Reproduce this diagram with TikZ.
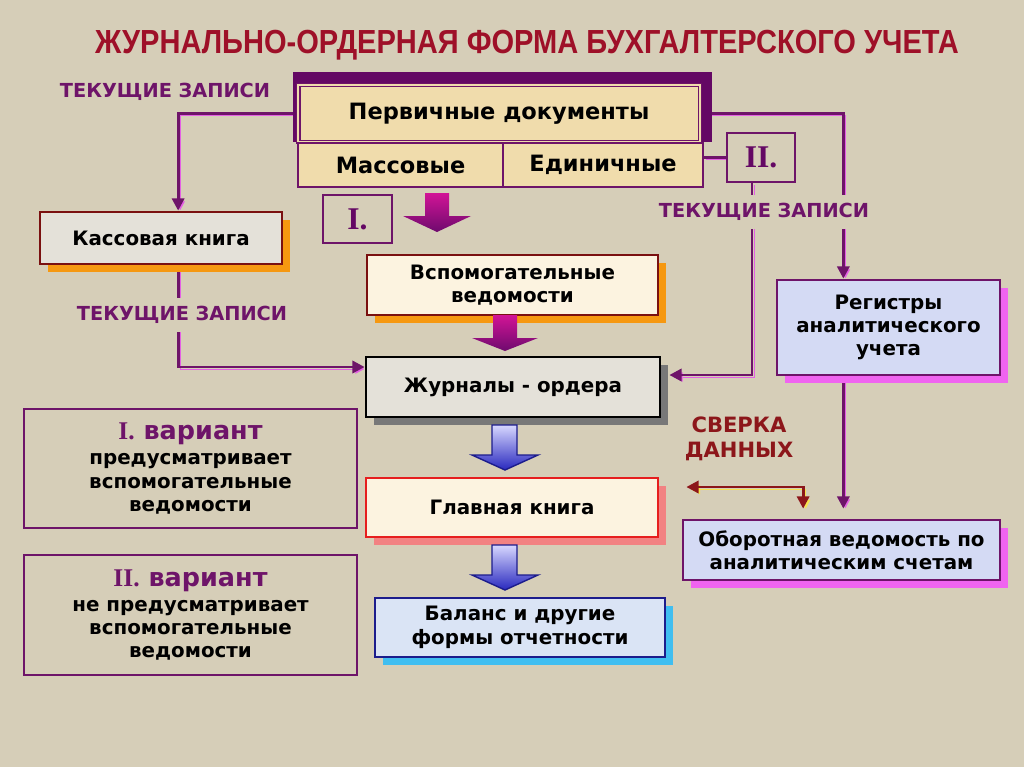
\documentclass[tikz,border=0pt]{standalone}
\usepackage{fontspec}
\setmainfont{DejaVu Sans}
\newfontfamily\titlefont[FakeStretch=0.87]{Liberation Sans}
\newfontfamily\romanfont{Liberation Serif}
\usepackage{xcolor}
\usetikzlibrary{positioning, arrows.meta, shadows, calc, backgrounds}

\definecolor{canvas}{RGB}{214,206,184}
\definecolor{titlered}{RGB}{158,16,40}
\definecolor{plum}{RGB}{110,20,105}
\definecolor{plumdark}{RGB}{100,8,100}
\definecolor{linkpink}{RGB}{228,96,228}
\definecolor{brownred}{RGB}{122,16,16}
\definecolor{shorange}{RGB}{246,152,16}
\definecolor{cream}{RGB}{252,243,224}
\definecolor{paper}{RGB}{240,220,172}
\definecolor{grayfill}{RGB}{228,225,217}
\definecolor{shgray}{RGB}{120,120,120}
\definecolor{redline}{RGB}{230,30,30}
\definecolor{shsalmon}{RGB}{242,130,130}
\definecolor{navy}{RGB}{28,28,140}
\definecolor{shcyan}{RGB}{64,190,240}
\definecolor{iceblue}{RGB}{218,228,245}
\definecolor{lavblue}{RGB}{212,218,244}
\definecolor{shmagenta}{RGB}{240,100,240}
\definecolor{sverka}{RGB}{140,22,26}
\definecolor{shyellow}{RGB}{246,226,80}
\definecolor{arrtop}{RGB}{210,20,150}
\definecolor{arrbot}{RGB}{110,10,110}
\definecolor{bluetop}{RGB}{215,215,255}
\definecolor{bluebot}{RGB}{40,40,190}

\begin{document}
\begin{tikzpicture}[x=0.02cm, y=-0.02cm,
    every node/.style={font=\bfseries\fontsize{11.3}{13.3}\selectfont, align=center, inner sep=0pt},
    bigtext/.style={font=\bfseries\fontsize{12.8}{15}\selectfont},
    box/.style={draw, line width=1.6pt},
    shade8/.style={drop shadow={shadow xshift=0.16cm, shadow yshift=-0.16cm, fill=#1, opacity=1}},
    link/.style={draw=plum, line width=1.6pt, -{Triangle[length=7pt,width=7pt]},
        preaction={draw=linkpink, transform canvas={shift={(0.04cm,-0.04cm)}}}},
    tag/.style={text=plum, fill=canvas, inner xsep=2pt, inner ysep=5pt, font=\bfseries\fontsize{11}{13}\selectfont}]

    \useasboundingbox (0,0) rectangle (1024,767);

    % Title
    \node[font=\titlefont\bfseries\fontsize{19}{22}\selectfont, text=titlered] (title) at (527,45)
        {ЖУРНАЛЬНО-ОРДЕРНАЯ ФОРМА БУХГАЛТЕРСКОГО УЧЕТА};

    % Primary documents
    \node[fill=plumdark, minimum width=8.38cm, minimum height=1.40cm] (pervback) at (502.5,107) {};
    \node[bigtext, draw=plum, line width=0.8pt, double=paper, double distance=1.2pt, fill=paper,
        minimum width=8.04cm, minimum height=1.14cm] (perv) at (499,113.5) {Первичные документы};
    \node[bigtext, box, draw=plum, fill=paper, minimum width=4.10cm, minimum height=0.88cm] (mass) at (400.5,165) {Массовые};
    \node[bigtext, box, draw=plum, fill=paper, minimum width=4.00cm, minimum height=0.88cm] (edin) at (603,165) {Единичные};

    % Roman marks
    \node[box, draw=plum, minimum width=1.38cm, minimum height=0.96cm, text=plumdark,
        font=\romanfont\bfseries\fontsize{18}{20}\selectfont] (rom1) at (357.5,219) {I.};
    \node[box, draw=plum, minimum width=1.36cm, minimum height=0.98cm, text=plumdark,
        font=\romanfont\bfseries\fontsize{18}{20}\selectfont] (rom2) at (761,157.5) {II.};

    % Main chain
    \node[box, draw=brownred, fill=grayfill, shade8=shorange, minimum width=4.84cm, minimum height=1.04cm]
        (kassa) at (161,238) {Кассовая книга};
    \node[box, draw=brownred, fill=cream, shade8=shorange, minimum width=5.82cm, minimum height=1.20cm]
        (vspom) at (512.5,285) {Вспомогательные\\ведомости};
    \node[box, draw=black, fill=grayfill, shade8=shgray, minimum width=5.88cm, minimum height=1.20cm]
        (zhurn) at (513,387) {Журналы - ордера};
    \node[box, draw=redline, fill=cream, shade8=shsalmon, minimum width=5.84cm, minimum height=1.18cm]
        (glav) at (512,507.5) {Главная книга};
    \node[box, draw=navy, fill=iceblue, shade8=shcyan, minimum width=5.80cm, minimum height=1.18cm]
        (balans) at (520,627.5) {Баланс и другие\\формы отчетности};

    % Analytic side
    \node[box, draw=plum, fill=lavblue, shade8=shmagenta, minimum width=4.46cm, minimum height=1.90cm]
        (reg) at (888.5,327.5) {Регистры\\аналитического\\учета};
    \node[box, draw=plum, fill=lavblue, shade8=shmagenta, minimum width=6.34cm, minimum height=1.20cm]
        (obor) at (841.5,550) {Оборотная ведомость по\\аналитическим счетам};

    % Variants
    \node[box, draw=plum, minimum width=6.66cm, minimum height=2.38cm] (var1) at (190.5,468.5)
        {{\color{plum}\fontsize{14.5}{17}\selectfont{\romanfont I.} вариант}\\[1pt]предусматривает\\вспомогательные\\ведомости};
    \node[box, draw=plum, minimum width=6.66cm, minimum height=2.40cm] (var2) at (190.5,615)
        {{\color{plum}\fontsize{14.5}{17}\selectfont{\romanfont II.} вариант}\\[1pt]не предусматривает\\вспомогательные\\ведомости};

    % Block arrows
    \shade[top color=arrtop, bottom color=arrbot]
        (425,193) -- (449,193) -- (449,216) -- (471,216) -- (437,232) -- (403,216) -- (425,216) -- cycle;
    \shade[top color=arrtop, bottom color=arrbot]
        (493,315) -- (517,315) -- (517,338) -- (538,338) -- (505,351) -- (472,338) -- (493,338) -- cycle;
    \shade[top color=bluetop, bottom color=bluebot, draw=navy, line width=0.8pt]
        (492,425) -- (517,425) -- (517,455) -- (538,455) -- (505,470) -- (472,455) -- (492,455) -- cycle;
    \shade[top color=bluetop, bottom color=bluebot, draw=navy, line width=0.8pt]
        (492,545) -- (517,545) -- (517,575) -- (538,575) -- (505,590) -- (472,575) -- (492,575) -- cycle;

    % Labels
    \node[tag] (tagA) at (165,92) {ТЕКУЩИЕ ЗАПИСИ};
    \node[tag] (tagB) at (764,212) {ТЕКУЩИЕ ЗАПИСИ};
    \node[tag] (tagC) at (182,315) {ТЕКУЩИЕ ЗАПИСИ};
    \node[text=sverka, font=\bfseries\fontsize{12}{14.5}\selectfont] (sverkatxt) at (739,439) {СВЕРКА\\ДАННЫХ};

    % Connectors
    \begin{scope}[on background layer]
        \fill[canvas] (0,0) rectangle (1024,767);
        \coordinate (kassain) at ($(kassa.north west)!0.57!(kassa.north east)$);
        \coordinate (kassaout) at ($(kassa.south west)!0.57!(kassa.south east)$);
        \coordinate (regin) at ($(reg.north west)!0.3!(reg.north east)$);
        \coordinate (regout) at ($(reg.south west)!0.3!(reg.south east)$);
        \coordinate (oborin) at ($(obor.north west)!0.38!(obor.north east)$);
        \draw[link] (perv.west) -| (kassain);
        \draw[link] (kassaout) |- ([yshift=0.4cm]zhurn.west);
        \draw[link] (perv.east) -| (regin);
        \draw[link, -] (edin.east |- rom2.west) -- (rom2.west);
        \draw[link, shorten >=0.16cm] ([xshift=-0.18cm]rom2.south) |- ([yshift=0.24cm]zhurn.east);
        \draw[link, shorten >=0.2cm] (regout) -- (regout |- obor.north);
        \draw[draw=sverka, line width=1.6pt, {Triangle[length=7pt,width=7pt]}-{Triangle[length=7pt,width=7pt]},
            shorten >=0.2cm, preaction={draw=shyellow, transform canvas={shift={(0.05cm,-0.05cm)}}}]
            ([xshift=0.54cm, yshift=0.41cm]glav.east) -| (oborin);
    \end{scope}

\end{tikzpicture}
\end{document}
